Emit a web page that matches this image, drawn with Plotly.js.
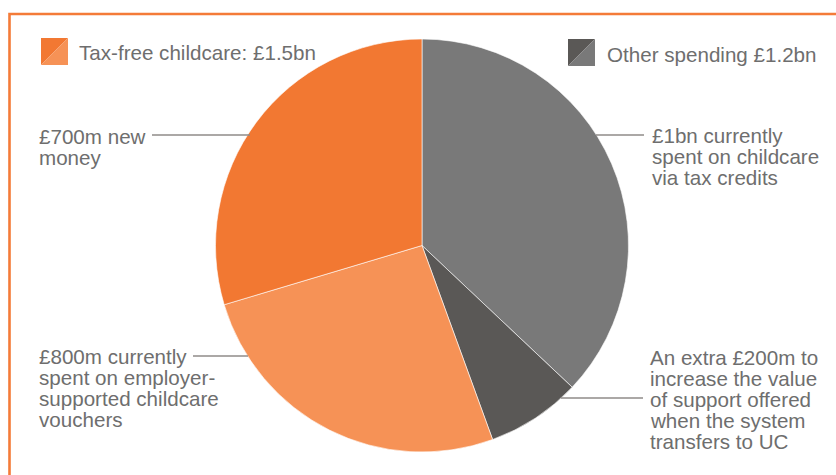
<!DOCTYPE html>
<html>
<head>
<meta charset="utf-8">
<script src="https://cdn.plot.ly/plotly-3.0.1.min.js"></script>
<style>html,body{margin:0;padding:0;background:#fff;}#chart{width:836px;height:475px;}</style>
</head>
<body>
<div id="chart"></div>
<script>
const sliceNames = ["Tax credits", "Extra for UC", "Employer vouchers", "New money"];
const sliceValues = [1000, 200, 700, 800];
const sliceColors = ["#797979", "#5A5856", "#F69256", "#F27832"];

// Legend texts
const legendLeft = "Tax-free childcare: £1.5bn";
const legendRight = "Other spending £1.2bn";

// Callout label lines
const labelTL = ["£700m new", "money"];
const labelTR = ["£1bn currently", "spent on childcare", "via tax credits"];
const labelBL = ["£800m currently", "spent on employer-", "supported childcare", "vouchers"];
const labelBR = ["An extra £200m to", "increase the value", "of support offered", "when the system", "transfers to UC"];

const W = 836, H = 475;
const px = x => x / W;
const py = y => 1 - y / H;
const FONT = {family: "Liberation Sans, Arial, sans-serif", size: 20.6, color: "#6e6e6e"};
const LEAD = 21;

const annotations = [];
function addLines(lines, x, firstBaseline, lead) {
  lines.forEach((t, i) => {
    annotations.push({
      text: t, xref: "paper", yref: "paper",
      x: px(x), y: py(firstBaseline + i * lead - 7),
      xanchor: "left", yanchor: "middle", align: "left",
      showarrow: false, font: FONT
    });
  });
}
addLines([legendLeft], 77, 59.5, LEAD);
addLines([legendRight], 605, 61.5, LEAD);
addLines(labelTL, 37, 143, LEAD);
addLines(labelTR, 650, 142, LEAD);
addLines(labelBL, 37, 363, LEAD);
addLines(labelBR, 648, 364.5, LEAD);

const lineStyle = {color: "#8f8b88", width: 1.3};
const shapes = [
  // frame (left and top edges visible)
  {type: "path", xref: "paper", yref: "paper",
   path: `M ${px(9.5)} ${py(480)} L ${px(9.5)} ${py(14)} L ${px(840)} ${py(14)}`,
   line: {color: "#F47B38", width: 2.6}},
  // legend squares
  {type: "path", xref: "paper", yref: "paper",
   path: `M ${px(41)} ${py(38)} L ${px(68)} ${py(38)} L ${px(41)} ${py(65)} Z`,
   fillcolor: "#F27832", line: {width: 0}},
  {type: "path", xref: "paper", yref: "paper",
   path: `M ${px(68)} ${py(38)} L ${px(68)} ${py(65)} L ${px(41)} ${py(65)} Z`,
   fillcolor: "#F69256", line: {width: 0}},
  {type: "path", xref: "paper", yref: "paper",
   path: `M ${px(568)} ${py(39)} L ${px(595)} ${py(39)} L ${px(568)} ${py(66)} Z`,
   fillcolor: "#5A5856", line: {width: 0}},
  {type: "path", xref: "paper", yref: "paper",
   path: `M ${px(595)} ${py(39)} L ${px(595)} ${py(66)} L ${px(568)} ${py(66)} Z`,
   fillcolor: "#797979", line: {width: 0}},
  // leader lines
  {type: "line", xref: "paper", yref: "paper", x0: px(152), x1: px(250), y0: py(135), y1: py(135), line: lineStyle},
  {type: "line", xref: "paper", yref: "paper", x0: px(596), x1: px(644), y0: py(135), y1: py(135), line: lineStyle},
  {type: "line", xref: "paper", yref: "paper", x0: px(193), x1: px(248), y0: py(356), y1: py(356), line: lineStyle},
  {type: "line", xref: "paper", yref: "paper", x0: px(561), x1: px(643), y0: py(398), y1: py(398), line: lineStyle}
];

const cx = 422, cy = 245.5, r = 206.5;
const trace = {
  type: "pie",
  labels: sliceNames,
  values: sliceValues,
  sort: false,
  direction: "clockwise",
  rotation: 0,
  textinfo: "none",
  hoverinfo: "none",
  showlegend: false,
  marker: {colors: sliceColors, line: {color: "#ffffff", width: 0.6}},
  domain: {x: [px(cx - r), px(cx + r)], y: [py(cy + r), py(cy - r)]}
};

const layout = {
  width: W, height: H,
  margin: {l: 0, r: 0, t: 0, b: 0},
  paper_bgcolor: "#ffffff",
  showlegend: false,
  annotations: annotations,
  shapes: shapes
};

Plotly.newPlot("chart", [trace], layout, {displayModeBar: false, staticPlot: true});
</script>
</body>
</html>
